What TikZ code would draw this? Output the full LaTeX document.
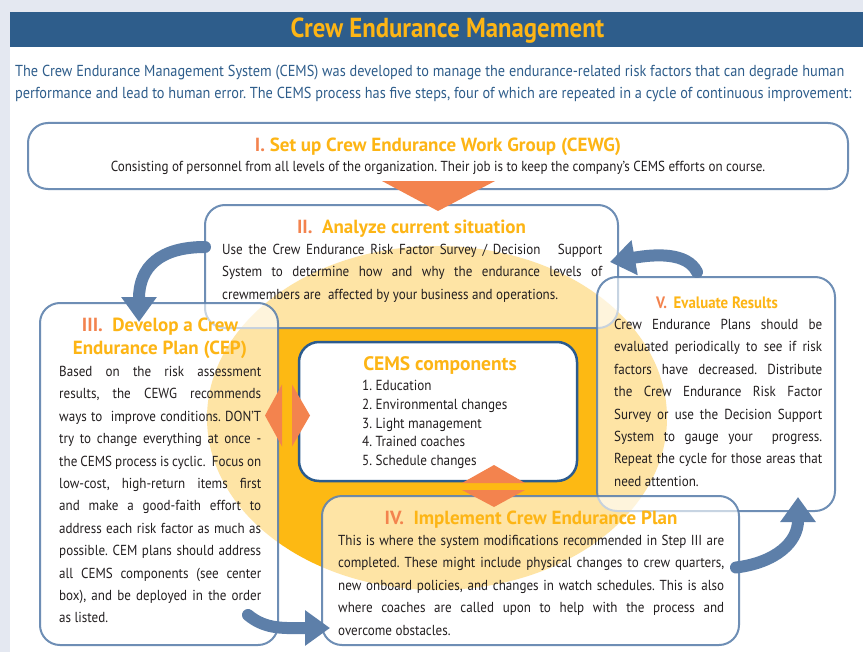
\documentclass[tikz,border=0pt]{standalone}
\usepackage{fontspec}
\setmainfont{PT Sans}[FakeStretch=0.9]
\newfontfamily\headfont{PT Sans}
\usetikzlibrary{positioning,calc,arrows.meta}

\definecolor{bggray}{HTML}{E4E8F1}
\definecolor{bandblue}{HTML}{2E5D8B}
\definecolor{gold}{HTML}{FDB515}
\definecolor{coral}{HTML}{F3834E}
\definecolor{boxblue}{HTML}{5F82AD}
\definecolor{arrowblue}{HTML}{5D7FA9}
\definecolor{cemsblue}{HTML}{2B5B8E}
\definecolor{ovalyellow}{HTML}{FDB913}
\definecolor{textdark}{HTML}{231F20}

\frenchspacing
\newcommand{\titlefont}{\bfseries\fontsize{27.5bp}{30bp}\selectfont}
\newcommand{\introfont}{\fontsize{15.9bp}{22bp}\selectfont}
\newcommand{\headsize}{\headfont\bfseries\fontsize{19bp}{23bp}\selectfont}
\newcommand{\condhead}{\bfseries\fontsize{16.5bp}{23bp}\selectfont}
\newcommand{\bodyfont}{\fontsize{14.5bp}{22.4bp}\selectfont\hyphenpenalty=10000\exhyphenpenalty=10000\tolerance=9999\relax}
\newcommand{\listfont}{\fontsize{14.6bp}{18.75bp}\selectfont}
\newcommand{\numcol}[1]{\textcolor{coral}{#1}}

\begin{document}
\begin{tikzpicture}[x=1bp, y=-1bp,
    stepbox/.style={draw=boxblue, line width=2bp, rounded corners=20bp, fill=white,
        fill opacity=0.62, draw opacity=0.9, inner sep=0pt, outer sep=0pt, anchor=north west},
    cemsbox/.style={draw=cemsblue, line width=2.5bp, rounded corners=20bp, fill=white,
        inner sep=0pt, outer sep=0pt, anchor=north west},
    heading/.style={font=\headsize, text=gold, inner sep=0pt, align=center},
    bodytext/.style={font=\bodyfont, text=textdark, text width=#1, align=justify,
        inner sep=0pt, anchor=north west},
    cyclearrow/.style={draw=arrowblue, line width=12bp, line cap=round,
        -{Triangle[width=34bp,length=25bp]}},
    marker/.style={fill=coral}]

    \useasboundingbox (0,0) rectangle (863,652);

    % Hintergrund
    \fill[bggray] (0,0) rectangle (863,652);
    \fill[white] (10,12) rectangle (863,652);
    \node[fill=bandblue, minimum width=853bp, minimum height=35bp, inner sep=0pt,
        outer sep=0pt, anchor=north west] (band) at (10,12) {};
    \node[font=\titlefont, text=gold, inner sep=0pt] (title) at ($(band.center)+(11,1)$) {Crew Endurance Management};
    \node[font=\introfont, text=bandblue, align=left, inner sep=0pt, anchor=north west]
        (intro) at ($(band.south west)+(5,18)$)
        {The Crew Endurance Management System (CEMS) was developed to manage the endurance-related risk factors that can degrade human\\
         performance and lead to human error. The CEMS process has five steps, four of which are repeated in a cycle of continuous improvement:};

    % Oval
    \fill[ovalyellow] (437,418) ellipse [x radius=230bp, y radius=172bp];

    % Kaesten
    \node[stepbox, minimum width=820bp, minimum height=66bp] (boxI) at (28,123) {};
    \node[stepbox, minimum width=413bp, minimum height=123bp] (boxII) at (205,205) {};
    \node[stepbox, minimum width=238bp, minimum height=342bp] (boxIII) at (40,303) {};
    \node[stepbox, minimum width=238bp, minimum height=234bp] (boxV) at (597,277) {};
    \node[stepbox, minimum width=417bp, minimum height=149bp] (boxIV) at (322,496) {};
    \node[cemsbox, minimum width=278bp, minimum height=139bp] (cems) at (299,342) {};

    % Marker
    \coordinate (dl) at ($(cems.west)+(-12,4)$);
    \coordinate (db) at ($(cems.south)+(56,5)$);
    \fill[marker] ($(boxI.south)+(-56,-8)$) -- ($(boxI.south)+(57,-8)$) -- ($(boxI.south)+(0,22)$) -- cycle;
    \fill[marker] ($(dl)+(-5,-31)$) -- ($(dl)+(-22,0)$) -- ($(dl)+(-5,31)$) -- cycle;
    \fill[marker] ($(dl)+(5,-31)$) -- ($(dl)+(23,0)$) -- ($(dl)+(5,31)$) -- cycle;
    \fill[marker] ($(db)+(-32,-3)$) -- ($(db)+(0,-21)$) -- ($(db)+(31,-3)$) -- cycle;
    \fill[marker] ($(db)+(-32,4)$) -- ($(db)+(0,21)$) -- ($(db)+(31,4)$) -- cycle;

    % Pfeile
    \draw[cyclearrow] ($(boxII.north west)+(0,42)$) .. controls +(-45,0) and +(0,-55) .. ($(boxIII.north)+(-20,19)$);
    \draw[cyclearrow] ($(boxIII.south east)+(-30,-30)$) .. controls +(18,15) and +(-45,0) .. ($(boxIV.south west)+(8,-17)$);
    \draw[cyclearrow] ($(boxIV.east)+(-3,-3)$) .. controls +(40,-5) and +(0,45) .. ($(boxV.south east)+(-37,-14)$);
    \draw[cyclearrow] ($(boxV.north)+(-19,-5)$) .. controls +(-10,-20) and +(45,-8) .. ($(boxII.east)+(-8,-4.5)$);

    % Texte
    \node[heading, anchor=base] (headI) at ($(boxI.north)+(0,29)$)
        {\numcol{I.} Set up Crew Endurance Work Group (CEWG)};
    \node[font=\bodyfont, text=textdark, inner sep=0pt, anchor=base] (textI) at ($(boxI.north)+(0,49)$)
        {Consisting of personnel from all levels of the organization. Their job is to keep the company’s CEMS efforts on course.};

    \node[heading, anchor=base] (headII) at ($(boxII.north)+(0,28)$)
        {\numcol{II.}\hspace{0.5em}Analyze current situation};
    \node[bodytext=380bp] (textII) at ($(boxII.north west)+(17,39)$)
        {Use the Crew Endurance Risk Factor Survey / Decision\ \ \ Support\linebreak
         System to determine how and why the endurance levels of\linebreak
         crewmembers are\ \ affected by your business and operations.};

    \node[heading, anchor=north] (headIII) at ($(boxIII.north)+(1,15)$)
        {\numcol{III.}\hspace{0.5em}Develop a Crew\\Endurance Plan (CEP)};
    \node[bodytext=202bp] (textIII) at ($(boxIII.north west)+(19,63)$)
        {Based on the risk assessment\linebreak
         results, the CEWG recommends\linebreak
         ways to\ \ improve conditions. DON’T\linebreak
         try to change everything at once -\linebreak
         the CEMS process is cyclic.\ \ Focus on\linebreak
         low-cost, high-return items first\linebreak
         and make a good-faith effort to\linebreak
         address each risk factor as much as\linebreak
         possible. CEM plans should address\linebreak
         all CEMS components (see center\linebreak
         box), and be deployed in the order\linebreak
         as listed.};

    \node[heading, font=\condhead, anchor=base] (headV) at ($(boxV.north)+(1,31)$)
        {\numcol{V.}\hspace{0.4em}Evaluate Results};
    \node[bodytext=208bp] (textV) at ($(boxV.north west)+(17,42)$)
        {Crew Endurance Plans should be\linebreak
         evaluated periodically to see if risk\linebreak
         factors have decreased. Distribute\linebreak
         the Crew Endurance Risk Factor\linebreak
         Survey or use the Decision Support\linebreak
         System to gauge your\ \ progress.\linebreak
         Repeat the cycle for those areas that\linebreak
         need attention.};

    \node[heading, anchor=base] (headIV) at ($(boxIV.north)+(0.5,28)$)
        {\numcol{IV.}\hspace{0.5em}Implement Crew Endurance Plan};
    \node[bodytext=386bp] (textIV) at ($(boxIV.north west)+(16,39)$)
        {This is where the system modifications recommended in Step III are\linebreak
         completed. These might include physical changes to crew quarters,\linebreak
         new onboard policies, and changes in watch schedules. This is also\linebreak
         where coaches are called upon to help with the process and\linebreak
         overcome obstacles.};

    \node[heading, font=\headfont\bfseries\fontsize{19.5bp}{22bp}\selectfont, anchor=base] (headC)
        at ($(cems.north)+(2,28)$) {CEMS components};
    \node[font=\listfont, text=textdark, align=left, inner sep=0pt, anchor=north west] (listC)
        at ($(cems.north west)+(63,38)$)
        {1. Education\\2. Environmental changes\\3. Light management\\4. Trained coaches\\5. Schedule changes};

\end{tikzpicture}
\end{document}
